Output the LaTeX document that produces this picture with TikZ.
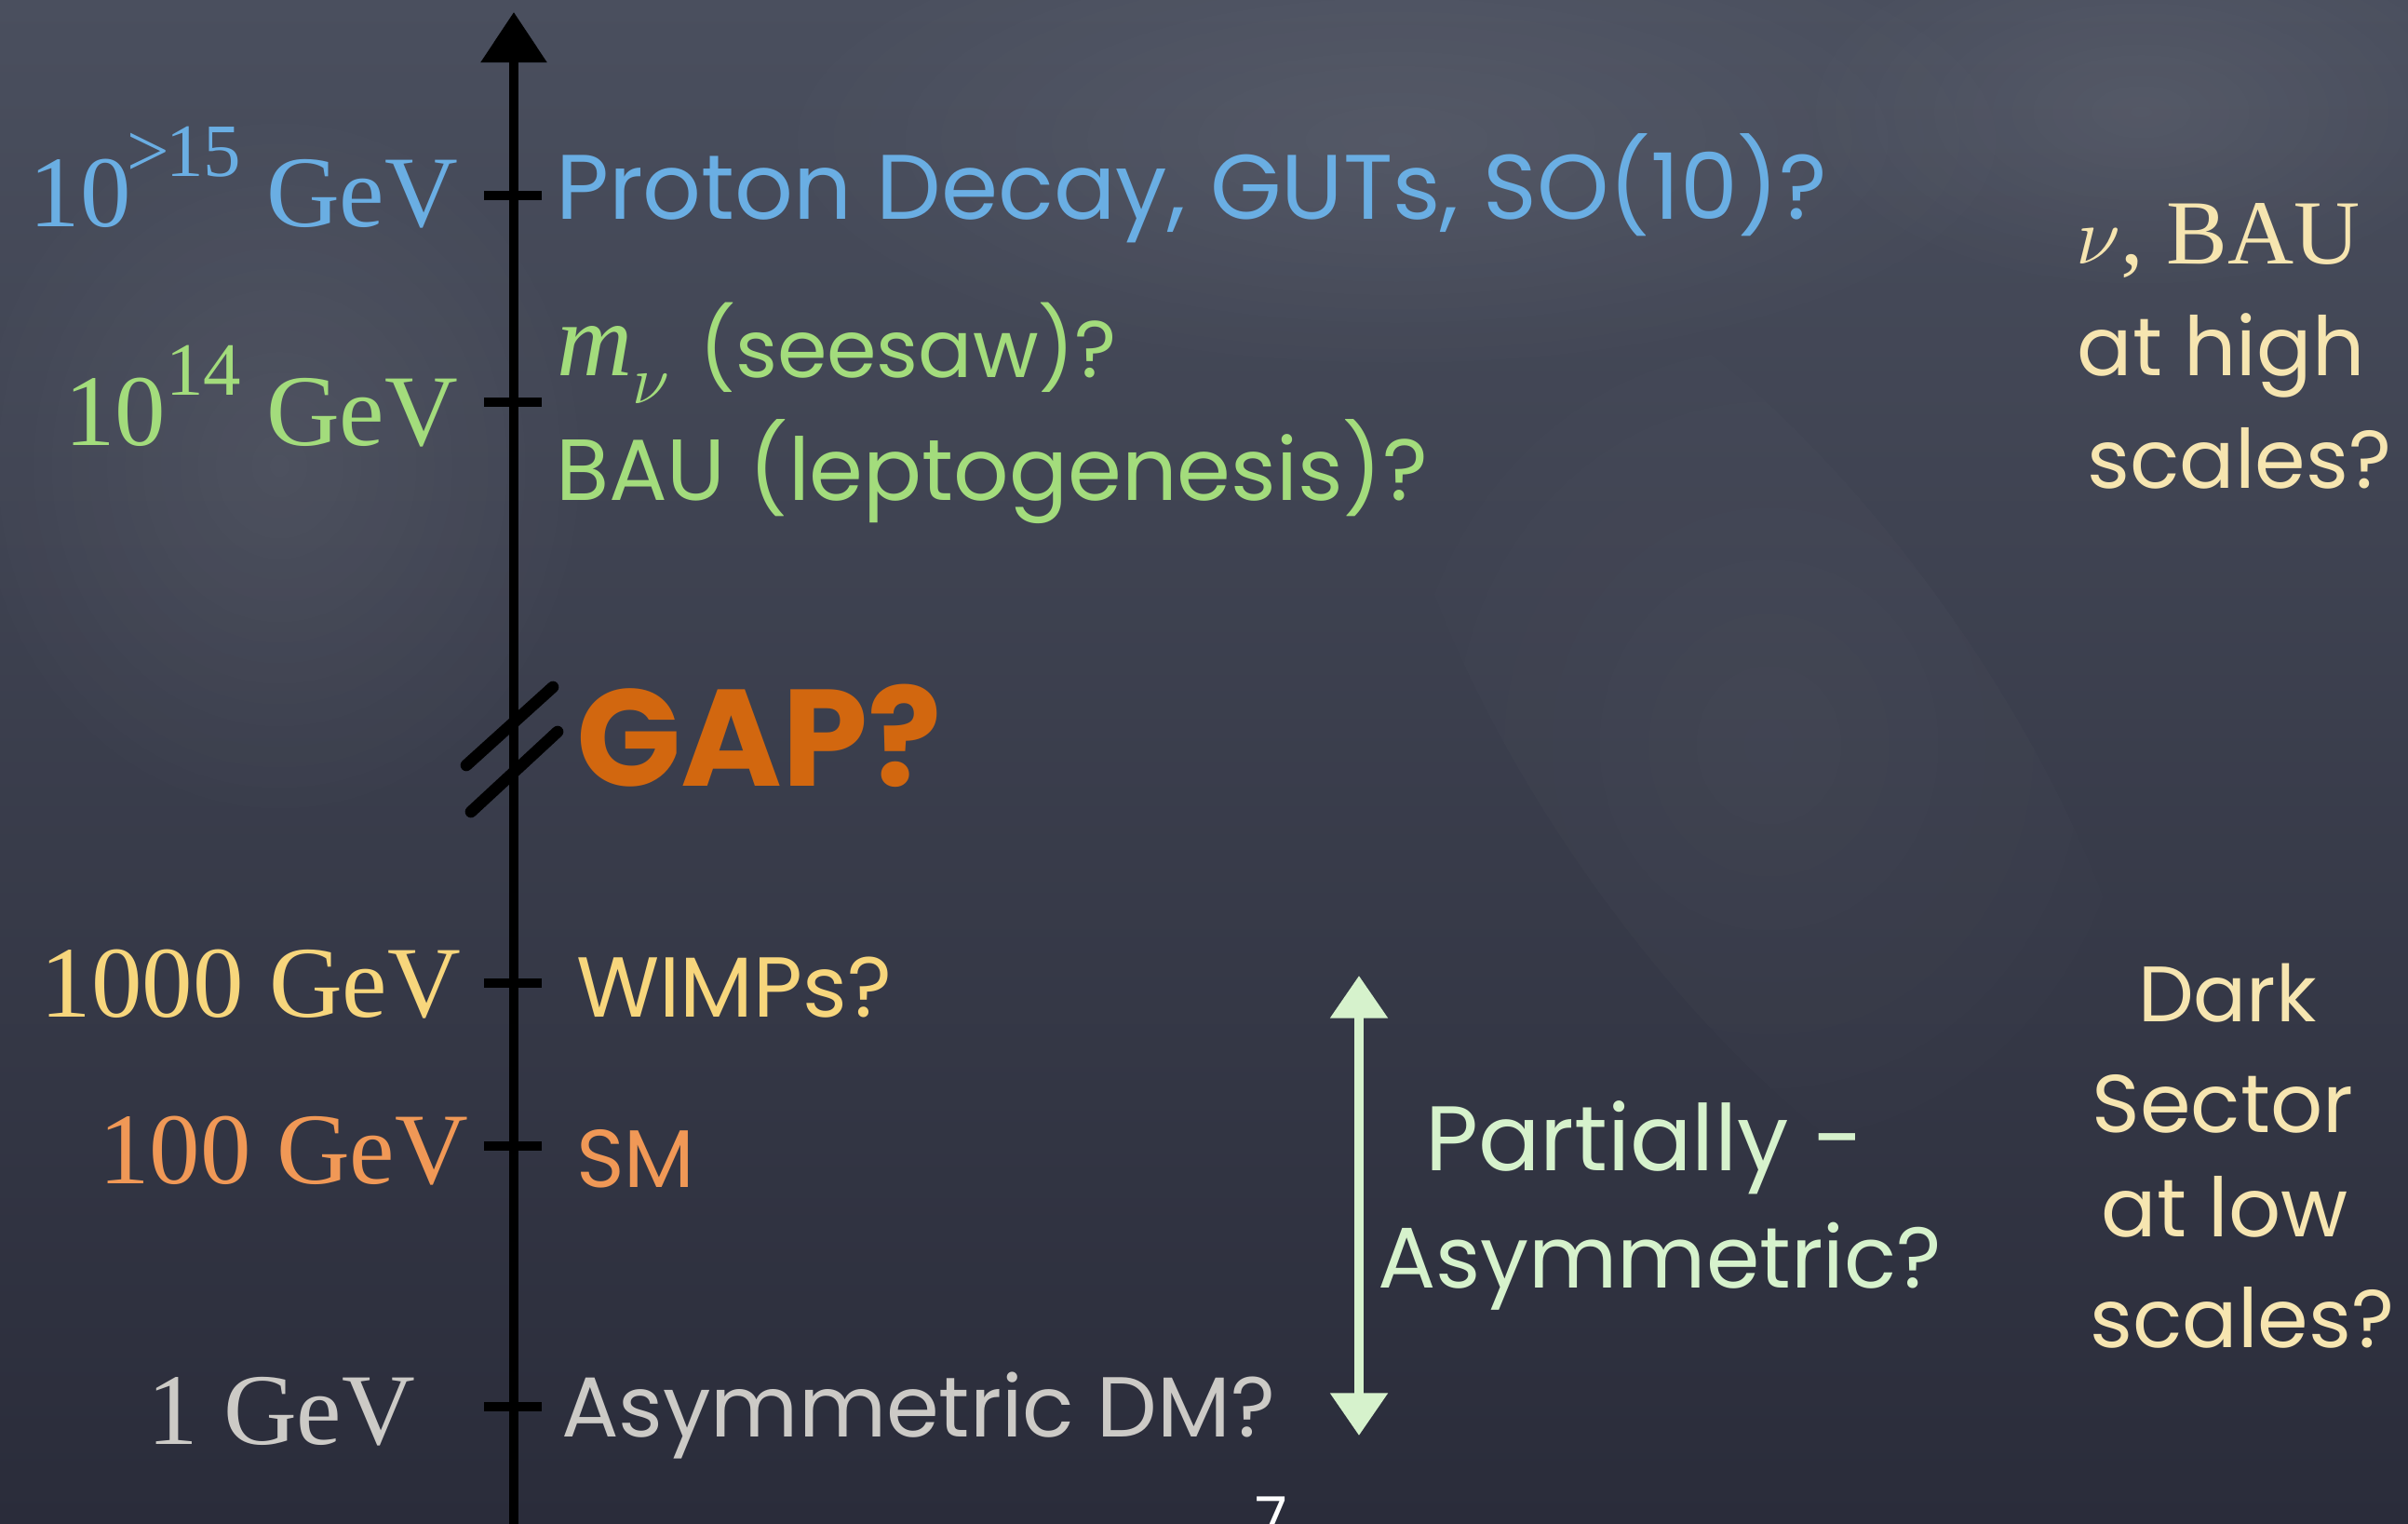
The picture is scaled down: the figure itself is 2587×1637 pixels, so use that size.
\documentclass[tikz,border=0pt]{standalone}
\usepackage{fontspec}
\setmainfont{Liberation Serif}
\newfontfamily\chalk{Poppins}
\usetikzlibrary{arrows.meta,fadings}

\definecolor{boardtop}{RGB}{74,79,94}
\definecolor{boardbot}{RGB}{42,44,58}
\definecolor{cblue}{RGB}{106,174,227}
\definecolor{cgreen}{RGB}{163,220,124}
\definecolor{cgap}{RGB}{210,103,15}
\definecolor{cyellow}{RGB}{247,214,124}
\definecolor{corange}{RGB}{240,152,86}
\definecolor{cgrey}{RGB}{204,202,198}
\definecolor{cmint}{RGB}{214,242,204}
\definecolor{ccream}{RGB}{246,229,176}

\newcommand\setfs[1]{\fontsize{#1}{#1}\selectfont}

\tikzfading[name=softspot, inner color=transparent!0, outer color=transparent!100]

\begin{document}
\begin{tikzpicture}[x=0.01cm, y=-0.01cm,
  txt/.style={inner sep=0pt, outer sep=0pt},
  scale label/.style={txt, anchor=base east, font=\setfs{31}},
  chalk label/.style={txt, anchor=base west, font=\chalk\setfs{26}},
  side label/.style={txt, anchor=base, font=\chalk\setfs{25}, text=ccream},
  axis line/.style={line width=2.85pt, black},
  tick mark/.style={line width=2.8pt, black},
  break mark/.style={line width=3.6pt, black, line cap=round},
  smudge/.style={white, path fading=softspot, opacity=0.07},
  range arrow/.style={line width=2.8pt, cmint,
    {Triangle[width=17pt,length=13pt]}-{Triangle[width=17pt,length=13pt]}}]

\useasboundingbox (0,0) rectangle (2587,1637);
\shade[top color=boardtop, bottom color=boardbot] (0,0) rectangle (2587,1637);
% chalk dust on the board
\fill[smudge] (1500,150) ellipse (700 and 260);
\fill[smudge, opacity=0.035, rotate around={-55:(1900,800)}] (1900,800) ellipse (620 and 240);
\fill[smudge] (2300,120) ellipse (380 and 200);
\fill[smudge] (300,500) ellipse (350 and 400);

% energy axis
\coordinate (axbot) at (552,1660);
\coordinate (axtop) at (552,13);
\draw[axis line, -{Triangle[width=19.6pt,length=15.4pt]}] (axbot) -- (axtop);

% ticks
\foreach \n/\y in {t1/210, t2/432, t3/1056, t4/1231, t5/1511}{
  \coordinate (\n) at (552,\y);
  \draw[tick mark] (\n) ++(-32,0) -- ++(62,0);
}

% axis break
\coordinate (brk1a) at (501,822);
\coordinate (brk1b) at (594,738);
\coordinate (brk2a) at (506,872);
\coordinate (brk2b) at (599,786);
\draw[break mark] (brk1a) -- (brk1b);
\draw[break mark] (brk2a) -- (brk2b);

% scale labels
\node[scale label, text=cblue] (s15) at (492,244)
  {10\kern-0.04em\raisebox{0.5em}{\setfs{23}>\kern-0.05em15} GeV};
\node[scale label, text=cgreen] (s14) at (492,479)
  {10\raisebox{0.5em}{\setfs{23}14} GeV};
\node[scale label, text=cyellow] (s3) at (495,1092) {1000 GeV};
\node[scale label, text=corange] (s2) at (503,1271) {100 GeV};
\node[scale label, text=cgrey] (s0) at (446,1551) {1 GeV};

% physics at each scale
\node[chalk label, text=cblue, font=\chalk\setfs{28}] (gut) at (597,236)
  {Proton Decay, GUTs, SO(10)?};
\node[txt, anchor=base west, text=cgreen, font=\setfs{32}] (mnu) at (598,404)
  {\itshape m\raisebox{-0.26em}{\setfs{22}$\nu$}};
\node[chalk label, text=cgreen, font=\chalk\setfs{24.5}] (seesaw) at (751,406) {(seesaw)?};
\node[chalk label, text=cgreen, font=\chalk\setfs{26.5}] (lepto) at (597,538) {BAU (leptogenesis)?};
\node[chalk label, text=cgap, font=\chalk\bfseries\setfs{42}] (gap) at (619,845) {GAP?};
\node[chalk label, text=cyellow] (wimp) at (619,1092) {WIMPs?};
\node[chalk label, text=corange, font=\chalk\setfs{25}] (sm) at (619,1275) {SM};
\node[chalk label, text=cgrey] (adm) at (603,1543) {Asymmetric DM?};

% partially asymmetric range
\coordinate (patop) at (1460,1048);
\coordinate (pabot) at (1460,1542);
\draw[range arrow] (pabot) -- (patop);
\node[chalk label, text=cmint, font=\chalk\setfs{28}] (pa1) at (1531,1257) {Partially -};
\node[chalk label, text=cmint, font=\chalk\setfs{26.3}] (pa2) at (1480,1383) {Asymmetric?};

% side notes
\node[side label, font=\setfs{28}] (hi1) at (2383,284) {$\nu$, BAU};
\node[side label] (hi2) at (2386,404) {at high};
\node[side label] (hi3) at (2406,525) {scales?};
\node[side label, font=\chalk\setfs{24}] (lo1) at (2393,1097) {Dark};
\node[side label] (lo2) at (2388,1216) {Sector};
\node[side label] (lo3) at (2390,1328) {at low};
\node[side label] (lo4) at (2409,1447) {scales?};

% page number
\node[txt, anchor=north, text=white, font=\chalk\setfs{18}] (page) at (1366,1608) {7};
\end{tikzpicture}
\end{document}
